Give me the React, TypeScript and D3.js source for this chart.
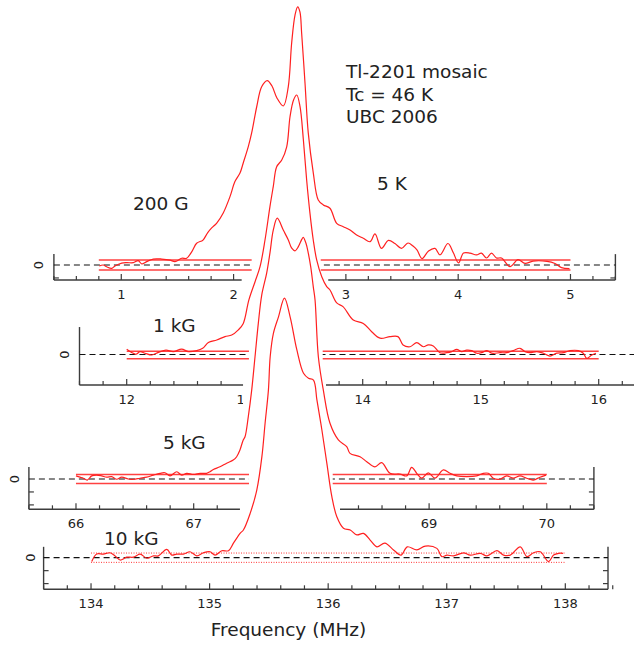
import React from "react";
import * as d3 from "d3";

// ---------- data (frequency MHz, normalized intensity) ----------
const spec200G: [number, number][] = [
  [0.804,-0.004],[0.840,0.000],[0.870,-0.007],[0.915,-0.013],[0.944,-0.004],[1.004,0.007],[1.048,0.009],[1.107,0.009],
  [1.151,0.017],[1.182,0.004],[1.226,0.013],[1.285,0.023],[1.360,0.023],[1.434,0.019],[1.478,0.013],[1.538,0.026],
  [1.582,0.026],[1.627,0.051],[1.671,0.084],[1.716,0.093],[1.730,0.097],[1.770,0.125],[1.805,0.143],[1.850,0.162],
  [1.908,0.201],[1.968,0.264],[2.012,0.322],[2.057,0.355],[2.086,0.394],[2.131,0.457],[2.161,0.510],[2.206,0.611],
  [2.250,0.688],[2.300,0.712],[2.342,0.691],[2.386,0.645],[2.443,0.614],[2.487,0.688],[2.517,0.856],[2.547,0.965],
  [2.571,0.997],[2.591,0.977],[2.606,0.896],[2.636,0.703],[2.665,0.510],[2.710,0.355],[2.754,0.251],[2.799,0.232],
  [2.858,0.219],[2.918,0.161],[2.977,0.148],[3.037,0.135],[3.096,0.116],[3.155,0.103],[3.215,0.090],[3.259,0.120],
  [3.317,0.064],[3.379,0.095],[3.437,0.083],[3.495,0.064],[3.553,0.085],[3.598,0.073],[3.633,0.058],[3.678,0.025],
  [3.736,0.054],[3.793,0.064],[3.838,0.039],[3.909,0.083],[3.958,0.046],[4.003,0.008],[4.047,0.046],[4.105,0.046],
  [4.163,0.039],[4.207,0.046],[4.252,0.027],[4.297,0.046],[4.341,0.027],[4.386,0.027],[4.461,-0.006],[4.533,0.021],
  [4.595,0.006],[4.666,0.015],[4.791,0.014],[4.862,0.006],[4.920,-0.010],[4.991,-0.014],
];

const spec1kG: [number, number][] = [
  [12.000,0.020],[12.042,0.008],[12.079,0.001],[12.113,0.011],[12.155,0.005],[12.212,-0.002],[12.268,0.008],[12.333,0.017],
  [12.395,0.011],[12.466,0.021],[12.522,0.011],[12.593,0.015],[12.644,0.024],[12.692,0.046],[12.763,0.056],[12.833,0.069],
  [12.890,0.075],[12.946,0.095],[12.988,0.120],[13.035,0.210],[13.087,0.280],[13.130,0.339],[13.172,0.442],[13.214,0.571],
  [13.242,0.648],[13.271,0.725],[13.314,0.751],[13.356,0.802],[13.384,0.918],[13.414,0.983],[13.441,1.002],[13.469,0.957],
  [13.497,0.830],[13.525,0.674],[13.553,0.546],[13.581,0.442],[13.610,0.365],[13.653,0.300],[13.695,0.262],[13.723,0.249],
  [13.780,0.199],[13.833,0.185],[13.920,0.133],[14.005,0.120],[14.076,0.088],[14.147,0.063],[14.231,0.069],[14.299,0.069],
  [14.342,0.037],[14.401,0.030],[14.458,0.046],[14.514,0.030],[14.556,0.037],[14.598,0.033],[14.655,0.007],[14.712,0.007],
  [14.754,0.011],[14.797,0.020],[14.839,0.011],[14.881,0.017],[14.924,0.015],[14.966,0.005],[15.008,0.007],[15.051,0.015],
  [15.093,0.005],[15.164,0.007],[15.220,0.007],[15.276,0.015],[15.333,0.024],[15.375,0.011],[15.418,0.007],[15.475,0.011],
  [15.531,0.005],[15.587,-0.006],[15.644,0.005],[15.700,0.007],[15.757,0.015],[15.827,0.015],[15.869,0.005],[15.898,-0.015],
  [15.941,-0.002],[15.977,0.005],
];

const spec5kG: [number, number][] = [
  [66.000,0.012],[66.034,0.007],[66.062,0.003],[66.096,-0.004],[66.133,0.012],[66.176,0.015],[66.218,0.012],[66.261,0.007],
  [66.303,0.009],[66.346,-0.001],[66.388,0.007],[66.444,0.000],[66.487,-0.001],[66.544,0.003],[66.601,0.007],[66.657,0.015],
  [66.714,0.022],[66.756,0.024],[66.799,0.012],[66.856,0.028],[66.898,0.015],[66.941,0.022],[66.997,0.018],[67.054,0.022],
  [67.110,0.022],[67.138,0.028],[67.167,0.037],[67.223,0.047],[67.280,0.061],[67.336,0.073],[67.365,0.086],[67.393,0.112],
  [67.421,0.151],[67.436,0.163],[67.464,0.241],[67.493,0.344],[67.521,0.472],[67.549,0.601],[67.578,0.710],[67.620,0.795],
  [67.648,0.873],[67.676,0.961],[67.710,1.007],[67.761,0.961],[67.804,0.923],[67.833,0.891],[67.861,0.881],[67.889,0.897],
  [67.918,0.925],[67.931,0.933],[67.954,0.910],[67.974,0.871],[67.994,0.820],[68.016,0.742],[68.031,0.691],[68.059,0.472],
  [68.101,0.344],[68.158,0.215],[68.229,0.151],[68.300,0.125],[68.328,0.099],[68.413,0.086],[68.470,0.067],[68.540,0.047],
  [68.597,0.063],[68.668,0.022],[68.753,0.019],[68.810,0.012],[68.852,0.045],[68.895,0.022],[68.937,0.003],[68.993,0.024],
  [69.050,0.003],[69.121,0.035],[69.178,0.022],[69.235,0.012],[69.319,0.009],[69.404,0.012],[69.460,0.022],[69.503,0.022],
  [69.545,0.003],[69.602,-0.001],[69.659,0.012],[69.715,0.003],[69.772,0.012],[69.829,0.003],[69.885,-0.004],[69.942,0.007],
  [69.993,0.015],
];

const spec10kG: [number, number][] = [
  [134.006,-0.015],[134.048,0.014],[134.104,0.014],[134.160,0.019],[134.203,0.007],[134.245,-0.009],[134.301,0.002],[134.357,0.002],
  [134.414,0.014],[134.470,-0.002],[134.526,0.007],[134.568,0.007],[134.639,0.032],[134.681,0.010],[134.723,0.014],[134.779,0.014],
  [134.835,0.023],[134.892,0.007],[134.948,0.019],[135.004,0.023],[135.046,0.010],[135.103,0.027],[135.159,0.027],[135.201,0.056],
  [135.257,0.094],[135.285,0.107],[135.342,0.171],[135.398,0.261],[135.441,0.390],[135.468,0.519],[135.496,0.647],[135.511,0.776],
  [135.538,0.866],[135.581,0.930],[135.631,1.002],[135.679,0.930],[135.736,0.802],[135.792,0.712],[135.834,0.693],[135.876,0.686],
  [135.905,0.609],[135.947,0.493],[135.989,0.364],[136.031,0.236],[136.073,0.158],[136.129,0.114],[136.186,0.107],[136.242,0.088],
  [136.298,0.094],[136.354,0.068],[136.411,0.042],[136.478,0.056],[136.551,0.030],[136.614,0.010],[136.667,0.042],[136.748,0.030],
  [136.819,0.045],[136.917,0.036],[136.959,0.004],[137.002,0.010],[137.057,0.007],[137.142,0.019],[137.198,0.010],[137.283,0.017],
  [137.339,0.007],[137.424,0.027],[137.479,0.010],[137.536,0.010],[137.620,0.042],[137.677,0.004],[137.732,0.019],[137.789,0.023],
  [137.859,-0.015],[137.901,0.010],[137.944,0.017],[137.981,0.017],
];

const fieldLabels = ["200 G", "1 kG", "5 kG", "10 kG"];
const xDomains: [number, number][] = [[0.4, 5.4], [11.6, 16.4], [65.6, 70.4], [133.6, 138.36]];
const bandHi = [0.019, 0.013, 0.017, 0.018];
const bandLo = [-0.019, -0.016, -0.017, -0.018];
const bandRanges: [number, number][] = [[0.8, 5.0], [12.0, 16.0], [66.0, 70.0], [134.0, 138.0]];
const axisGaps: ([number, number] | null)[] = [[2.072, 2.843], [12.986, 13.689], [67.393, 68.243], null];
const bandGaps: ([number, number] | null)[] = [[2.161, 2.776], [13.036, 13.661], [67.47, 68.181], null];
const yLimits: [number, number][] = [[-0.058, 0.042], [-0.118, 0.106], [-0.117, 0.046], [-0.122, 0.042]];
const yTickValues = [[-0.05], [], [-0.05, -0.1], [-0.05, -0.1]];
const spectra = [spec200G, spec1kG, spec5kG, spec10kG];
const infoLines = ["Tl-2201 mosaic", "Tc = 46 K", "UBC 2006"];
const tempLabel = "5 K";
const xTitle = "Frequency (MHz)";

// ---------- layout ----------
const W = 634, H = 645;
const PX_PER_UNIT = 259;
const layout = [
  { x0: 53.9, x1: 615.4, zero: 265, right: true, dotted: false, lab: [133, 210], zeroLabX: 38 },
  { x0: 79.5, x1: 645.9, zero: 354.5, right: false, dotted: false, lab: [153, 332], zeroLabX: 64 },
  { x0: 28.9, x1: 593.9, zero: 479, right: true, dotted: false, lab: [163, 449], zeroLabX: 14 },
  { x0: 43.6, x1: 608, zero: 557.7, right: true, dotted: true, lab: [104, 545], zeroLabX: 30 },
];

const FONT = "'DejaVu Sans', Verdana, sans-serif";
const AXIS = "#3c3c3c";
const RED = "#ff2020";

export default function App() {
  const panels = layout.map((L, i) => {
    const x = d3.scaleLinear().domain(xDomains[i]).range([L.x0, L.x1]);
    const y = d3.scaleLinear().domain([0, 1]).range([L.zero, L.zero - PX_PER_UNIT]);
    return { L, x, y, i };
  });

  const line = (x: d3.ScaleLinear<number, number>, y: d3.ScaleLinear<number, number>) =>
    d3.line<[number, number]>().x((d) => x(d[0])).y((d) => y(d[1])).curve(d3.curveCatmullRom.alpha(0.5));

  return (
    <svg width={W} height={H} style={{ position: "absolute", left: 0, top: 0, background: "#fff" }}
      fontFamily={FONT}>
      <rect width={W} height={H} fill="#fff" />
      {panels.map(({ L, x, y, i }) => {
        const [d0, d1] = xDomains[i];
        const axisY = y(yLimits[i][0]);
        const topY = y(yLimits[i][1]);
        const ticks = d3.range(Math.round(d0 * 5), Math.round(d1 * 5) + 1).map((k) => k / 5);
        const majors = ticks.filter((t) => Math.abs(t - Math.round(t)) < 1e-6);
        const dash = L.dotted ? "1,1.5" : undefined;
        const bw = L.dotted ? 1 : 1.5;
        return (
          <g key={i}>
            {/* axes */}
            <line x1={L.x0} x2={L.x1} y1={axisY} y2={axisY} stroke={AXIS} strokeWidth={1.6} />
            <line x1={L.x0} x2={L.x0} y1={topY} y2={axisY} stroke={AXIS} strokeWidth={1.4} />
            {L.right && <line x1={L.x1} x2={L.x1} y1={topY} y2={axisY} stroke={AXIS} strokeWidth={1.4} />}
            {ticks.map((t) => {
              const major = majors.includes(t);
              return (
                <line key={t} x1={x(t)} x2={x(t)} y1={axisY} y2={axisY - (major ? 6 : 4)}
                  stroke={AXIS} strokeWidth={1.2} />
              );
            })}
            {majors.map((t) => (
              <text key={"l" + t} x={x(t)} y={axisY + 18.5} fontSize={13} textAnchor="middle" fill="#222">
                {d3.format("d")(t)}
              </text>
            ))}
            {yTickValues[i].map((v) => (
              <g key={"y" + v}>
                <line x1={L.x0} x2={L.x0 + 5} y1={y(v)} y2={y(v)} stroke={AXIS} strokeWidth={1.2} />
                {L.right && <line x1={L.x1} x2={L.x1 - 5} y1={y(v)} y2={y(v)} stroke={AXIS} strokeWidth={1.2} />}
              </g>
            ))}
            <text transform={`translate(${L.zeroLabX},${y(0)}) rotate(-90)`} fontSize={13} textAnchor="middle"
              dominantBaseline="central" fill="#222">0</text>
            {/* noise band */}
            {[bandHi[i], bandLo[i]].map((v, k) => (
              <line key={"b" + k} x1={x(bandRanges[i][0])} x2={x(bandRanges[i][1])} y1={y(v)} y2={y(v)}
                stroke={RED} strokeWidth={bw} strokeDasharray={dash} opacity={L.dotted ? 0.9 : 0.85} />
            ))}
            {/* zero line */}
            <line x1={L.x0} x2={L.x1} y1={y(0)} y2={y(0)} stroke="#111" strokeWidth={1.2} strokeDasharray="6,4" />
          </g>
        );
      })}
      {/* masks where the stacked panels overlap */}
      {panels.map(({ L, x, y, i }) => {
        const axisY = y(yLimits[i][0]);
        const ag = axisGaps[i];
        const bg = bandGaps[i];
        return (
          <g key={"m" + i}>
            {ag && <rect x={x(ag[0])} y={axisY - 8} width={x(ag[1]) - x(ag[0])} height={30} fill="#fff" />}
            {bg && <rect x={x(bg[0])} y={y(bandHi[i]) - 3} width={x(bg[1]) - x(bg[0])}
              height={y(bandLo[i]) - y(bandHi[i]) + 6} fill="#fff" />}
          </g>
        );
      })}
      {/* spectra */}
      {panels.map(({ x, y, i }) => (
        <path key={"s" + i} d={line(x, y)(spectra[i]) || ""} fill="none" stroke={RED} strokeWidth={1.2}
          strokeLinejoin="round" />
      ))}
      {/* field labels */}
      {layout.map((L, i) => (
        <text key={"f" + i} x={L.lab[0]} y={L.lab[1]} fontSize={18.5} fill="#222">{fieldLabels[i]}</text>
      ))}
      {infoLines.map((t, k) => (
        <text key={t} x={346} y={78 + k * 22.5} fontSize={18.5} fill="#222">{t}</text>
      ))}
      <text x={377} y={190} fontSize={18.5} fill="#222">{tempLabel}</text>
      <text x={288.5} y={636} fontSize={18.5} textAnchor="middle" fill="#222">{xTitle}</text>
    </svg>
  );
}
